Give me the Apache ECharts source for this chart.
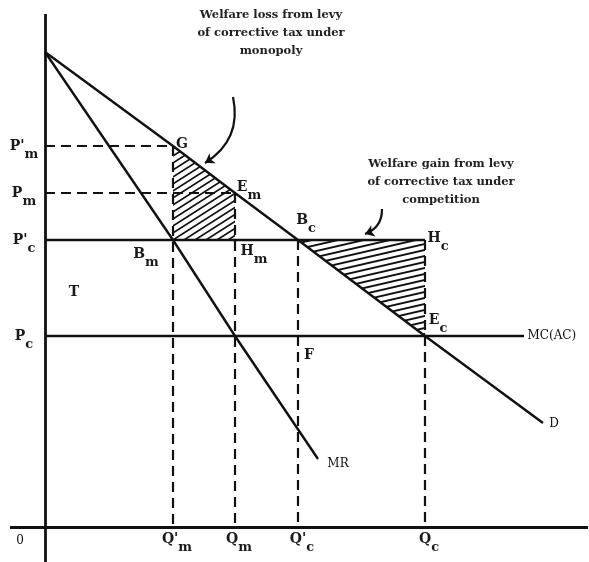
<!DOCTYPE html>
<html>
<head>
<meta charset="utf-8">
<script src="https://cdn.jsdelivr.net/npm/echarts@6/dist/echarts.min.js"></script>
<style>
  html, body { margin: 0; padding: 0; background: #fff; }
  #chart { width: 589px; height: 562px; }
</style>
</head>
<body>
<div id="chart"></div>
<script>
// values, in plot units (origin at 0)
const qNames = ["Q'", 'Q', "Q'", 'Q'];
const qSubs = ['m', 'm', 'c', 'c'];
const qValues = [128, 190, 253, 380];
const pNames = ["P'", 'P', "P'", 'P'];
const pSubs = ['m', 'm', 'c', 'c'];
const pValues = [381, 334, 287, 191];

const demand = [[0, 475], [128, 381], [190, 334], [253, 287], [380, 191], [498, 104]];
const marginalRevenue = [[0, 475], [128, 287], [190, 191], [273, 68]];
const mcLine = [[0, 191], [479, 191]];
const taxLine = [[0, 287], [380, 287]];

const xAxisLine = [[-35, 0], [543, 0]];
const yAxisLine = [[0, -35], [0, 513]];

// points named in the figure
const pointNames = ['G', 'E', 'B', 'H', 'E', 'B', 'H'];
const pointSubs = ['', 'm', 'c', 'c', 'c', 'm', 'm'];
const pointValues = [[128, 381], [190, 334], [253, 287], [380, 287], [380, 191], [128, 287], [190, 287]];

const lossArea = [[128, 381], [190, 334], [190, 287], [128, 287]];
const gainArea = [[253, 287], [380, 287], [380, 191]];

const lossNote = ['Welfare loss from levy', 'of corrective tax under', 'monopoly'];
const gainNote = ['Welfare gain from levy', 'of corrective tax under', 'competition'];

const INK = '#111';
const SERIF = 'DejaVu Serif';

function hatchTile(w, h, lw) {
  const c = document.createElement('canvas');
  c.width = w;
  c.height = h;
  const ctx = c.getContext('2d');
  ctx.strokeStyle = INK;
  ctx.lineWidth = lw;
  ctx.beginPath();
  for (let k = -1; k <= 1; k++) {
    ctx.moveTo(-w + k * w, 2 * h);
    ctx.lineTo(2 * w + k * w, -h);
  }
  ctx.stroke();
  return { image: c, repeat: 'repeat' };
}

const lossHatch = hatchTile(11, 7, 1.7);
const gainHatch = hatchTile(26, 6, 1.9);

const rich = {
  b: { fontFamily: SERIF, fontSize: 14, fontWeight: 'bold', color: '#1a1a1a' },
  s: { fontFamily: SERIF, fontSize: 13, fontWeight: 'bold', color: '#1a1a1a', padding: [18, 0, 0, 0] },
  n: { fontFamily: SERIF, fontSize: 12, color: INK }
};

function tag(main, sub) {
  return sub ? '{b|' + main + '}{s|' + sub + '}' : '{b|' + main + '}';
}

function areaSeries(poly, fill) {
  return {
    type: 'custom',
    z: 1,
    silent: true,
    data: [0],
    renderItem: function (params, api) {
      return {
        type: 'polygon',
        shape: { points: poly.map(function (p) { return api.coord(p); }) },
        style: { fill: fill, stroke: null }
      };
    }
  };
}

function seg(coords) { return { coords: coords }; }

const pointOffsets = [[9, -2], [14, -6], [8, -20], [13, -2], [13, -16], [-27, 14], [19, 11]];

const labelData = [];
pValues.forEach(function (p, i) {
  labelData.push({ value: [0, p], label: { formatter: tag(pNames[i], pSubs[i]), offset: [-21, 0] } });
});
qValues.forEach(function (q, i) {
  labelData.push({ value: [q, 0], label: { formatter: tag(qNames[i], qSubs[i]), offset: [4, 12] } });
});
pointValues.forEach(function (v, i) {
  labelData.push({ value: v, label: { formatter: tag(pointNames[i], pointSubs[i]), offset: pointOffsets[i] } });
});
labelData.push({ value: [0, 0], label: { formatter: '{n|0}', offset: [-25, 14] } });
labelData.push({ value: [29, 235], label: { formatter: tag('T') } });
labelData.push({ value: [253, 191], label: { formatter: tag('F'), offset: [11, 19] } });
labelData.push({ value: marginalRevenue[marginalRevenue.length - 1], label: { formatter: '{n|MR}', offset: [20, 5] } });
labelData.push({ value: demand[demand.length - 1], label: { formatter: '{n|D}', offset: [11, 1] } });
labelData.push({ value: mcLine[1], label: { formatter: '{n|MC(AC)}', position: 'right', distance: 3 } });

const chart = echarts.init(document.getElementById('chart'), null, { renderer: 'canvas' });

chart.setOption({
  animation: false,
  backgroundColor: '#fff',
  grid: { left: 45, right: 1, top: 14, bottom: 35 },
  xAxis: { type: 'value', min: 0, max: 543, show: false },
  yAxis: { type: 'value', min: 0, max: 513, show: false },
  series: [
    areaSeries(lossArea, lossHatch),
    areaSeries(gainArea, gainHatch),
    {
      type: 'lines',
      coordinateSystem: 'cartesian2d',
      clip: false,
      silent: true,
      z: 3,
      lineStyle: { color: INK, width: 2.8, opacity: 1 },
      data: [seg(xAxisLine), seg(yAxisLine)]
    },
    {
      type: 'lines',
      coordinateSystem: 'cartesian2d',
      polyline: true,
      clip: false,
      silent: true,
      z: 3,
      lineStyle: { color: INK, width: 2.4, opacity: 1 },
      data: [seg(demand), seg(marginalRevenue), seg(mcLine), seg(taxLine)]
    },
    {
      type: 'lines',
      coordinateSystem: 'cartesian2d',
      clip: false,
      silent: true,
      z: 2,
      lineStyle: { color: INK, width: 2.2, type: [10, 6], opacity: 1 },
      data: [
        seg([[0, pValues[0]], [qValues[0], pValues[0]]]),
        seg([[0, pValues[1]], [qValues[1], pValues[1]]]),
        seg([[qValues[0], pValues[0]], [qValues[0], 0]]),
        seg([[qValues[1], pValues[1]], [qValues[1], 0]]),
        seg([[qValues[2], pValues[2]], [qValues[2], 0]]),
        seg([[qValues[3], pValues[2]], [qValues[3], 0]])
      ]
    },
    {
      type: 'lines',
      coordinateSystem: 'cartesian2d',
      clip: false,
      silent: true,
      z: 3,
      symbol: ['none', 'arrow'],
      symbolSize: 9,
      lineStyle: { color: INK, width: 2.2, opacity: 1, curveness: 0.35 },
      data: [seg([[188, 430], [160, 364]]), seg([[337, 318], [320, 293]])]
    },
    {
      type: 'scatter',
      silent: true,
      z: 4,
      symbolSize: 1,
      itemStyle: { color: 'rgba(0,0,0,0)', opacity: 1 },
      label: { show: true, position: 'inside', color: INK, rich: rich },
      data: labelData
    },
    {
      type: 'scatter',
      silent: true,
      z: 4,
      symbolSize: 1,
      itemStyle: { color: 'rgba(0,0,0,0)', opacity: 1 },
      label: {
        show: true,
        position: 'inside',
        fontFamily: SERIF,
        fontSize: 11.5,
        fontWeight: 'bold',
        lineHeight: 18,
        color: '#222',
        align: 'center'
      },
      data: [
        { value: [226, 494], label: { formatter: lossNote.join('\n') } },
        { value: [396, 345], label: { formatter: gainNote.join('\n') } }
      ]
    }
  ]
});
</script>
</body>
</html>
